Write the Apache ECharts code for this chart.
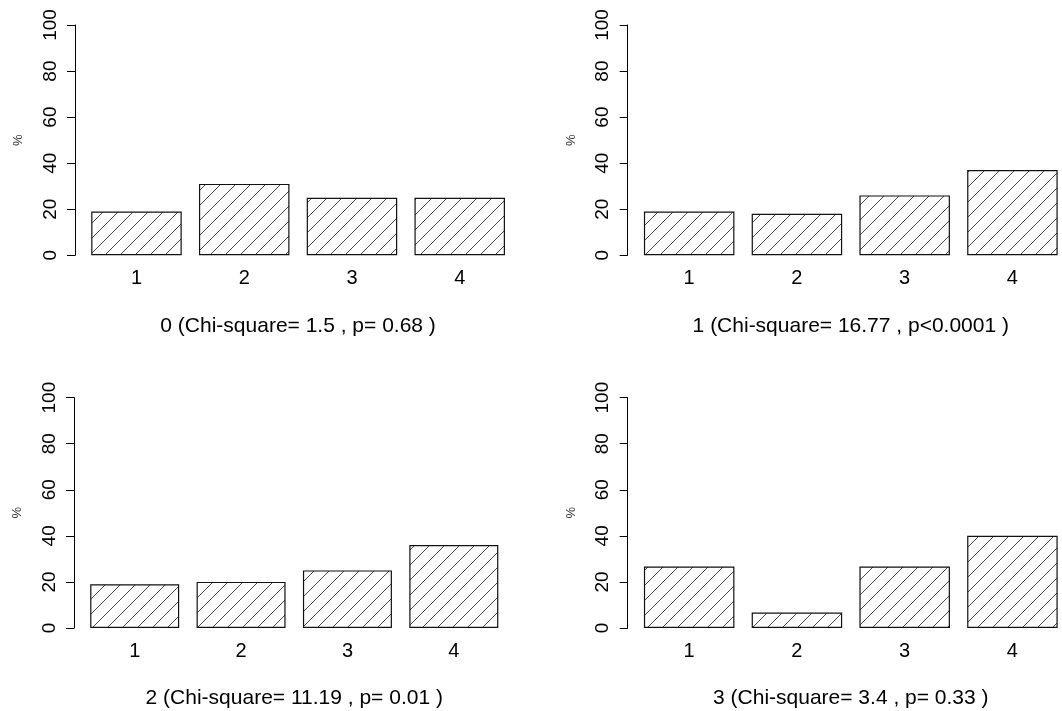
<!DOCTYPE html>
<html>
<head>
<meta charset="utf-8">
<script src="https://cdn.jsdelivr.net/npm/echarts@6/dist/echarts.min.js"></script>
<style>html,body{margin:0;padding:0;background:#fff}#c{width:1062px;height:711px}</style>
</head>
<body>
<div id="c"></div>
<script>
// ---- data ----
var categories = ['1', '2', '3', '4'];
var values0 = [19, 31, 25, 25];
var values1 = [19, 18, 26, 37];
var values2 = [19, 20, 25, 36];
var values3 = [26.7, 6.7, 26.7, 40];
var panelTitles = [
  '0 (Chi-square= 1.5 , p= 0.68 )',
  '1 (Chi-square= 16.77 , p<0.0001 )',
  '2 (Chi-square= 11.19 , p= 0.01 )',
  '3 (Chi-square= 3.4 , p= 0.33 )'
];
var yMin = 0, yMax = 100, yStep = 20;
var yName = '%';

// ---- layout ----
var layouts = [
  {left: 82.6, width: 431, top: 25, height: 230.3, offset: 7.6, barW: 90.5},
  {left: 635.3, width: 431, top: 25, height: 230.3, offset: 7.6, barW: 90.5},
  {left: 81.5, width: 425.5, top: 397.6, height: 230.4, offset: 7.5, barW: 89},
  {left: 635.3, width: 431, top: 397.6, height: 230.4, offset: 7.6, barW: 90.5}
];
var allValues = [values0, values1, values2, values3];

function makeHatch() {
  var s = 15;
  var c = document.createElement('canvas');
  c.width = s; c.height = s;
  var g = c.getContext('2d');
  g.fillStyle = '#fff';
  g.fillRect(0, 0, s, s);
  g.strokeStyle = '#333';
  g.lineWidth = 0.9;
  g.beginPath();
  g.moveTo(0, s); g.lineTo(s, 0);
  g.moveTo(-2, 2); g.lineTo(2, -2);
  g.moveTo(s - 2, s + 2); g.lineTo(s + 2, s - 2);
  g.stroke();
  return c;
}
var hatch = makeHatch();
var FONT = '"Liberation Sans", Arial, sans-serif';

var grids = [], xAxes = [], yAxes = [], series = [];
layouts.forEach(function (L, i) {
  grids.push({left: L.left, width: L.width, top: L.top, height: L.height, containLabel: false, outerBoundsMode: 'none'});
  xAxes.push({
    type: 'category', gridIndex: i, data: categories,
    axisLine: {show: false}, axisTick: {show: false},
    axisLabel: {fontSize: 20, margin: 13, color: '#000', fontFamily: FONT},
    name: panelTitles[i], nameLocation: 'middle', nameGap: 60,
    nameTextStyle: {fontSize: 21, color: '#000', fontFamily: FONT}
  });
  yAxes.push({
    type: 'value', gridIndex: i, min: yMin, max: yMax, interval: yStep,
    offset: L.offset,
    axisLine: {show: true, lineStyle: {color: '#000', width: 1}},
    axisTick: {show: true, length: 8, lineStyle: {color: '#000', width: 1}},
    axisLabel: {rotate: 90, fontSize: 19, margin: 15, color: '#000', fontFamily: FONT},
    splitLine: {show: false},
    name: yName, nameLocation: 'middle', nameRotate: 90, nameGap: 50,
    nameTextStyle: {fontSize: 13, color: '#333', fontFamily: FONT}
  });
  series.push({
    type: 'bar', xAxisIndex: i, yAxisIndex: i, data: allValues[i],
    barWidth: L.barW,
    itemStyle: {color: {image: hatch, repeat: 'repeat'}, borderColor: '#111', borderWidth: 1.2},
    emphasis: {disabled: true},
    animation: false
  });
});

var chart = echarts.init(document.getElementById('c'), null, {renderer: 'canvas'});
chart.setOption({
  animation: false,
  backgroundColor: '#fff',
  grid: grids, xAxis: xAxes, yAxis: yAxes, series: series
});
</script>
</body>
</html>
